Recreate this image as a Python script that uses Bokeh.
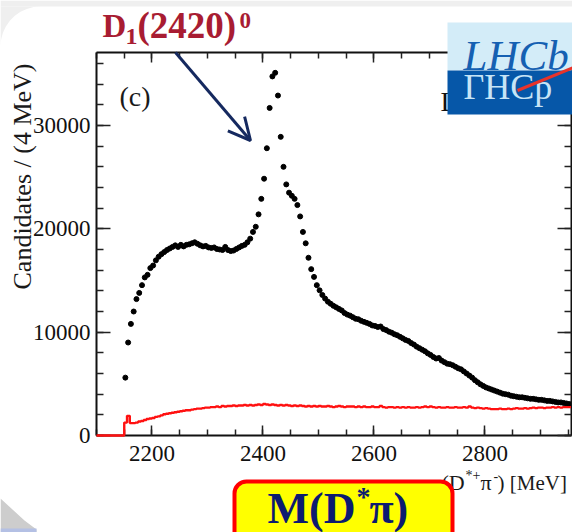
import math
from bokeh.plotting import figure
from bokeh.models import (Range1d, LinearAxis, SingleIntervalTicker, Label, BoxAnnotation,
                          PolyAnnotation, Arrow, OpenHead, CustomJSTickFormatter)
from bokeh.embed import file_html
from bokeh.resources import INLINE

# ---------------- data ----------------
BIN_MEV = 5
black_first_center = 2152
black_counts = [
    5600, 9000, 10800, 12000, 13200, 13800, 14550, 15300, 15550, 16200,
    16450, 16950, 17300, 17550, 17750, 17950, 18100, 18250, 18400, 18250,
    18450, 18300, 18450, 18500, 18600, 18700, 18550, 18400, 18300, 18350,
    18200, 18150, 18200, 18050, 18000, 17950, 18250, 17950, 17850, 17900,
    18050, 18200, 18350, 18450, 18700, 19050, 19700, 20200, 21400, 22900,
    24850, 27800, 31700, 34750, 35100, 32900, 28900, 26000, 24300, 23500,
    23200, 22900, 22300, 21200, 19700, 18600, 17200, 16100, 15350, 14550,
    14050, 13600, 13250, 12950, 12750, 12550, 12400, 12250, 12100, 11850,
    11700, 11600, 11450, 11300, 11250, 11100, 11000, 10900, 10800, 10650,
    10600, 10500, 10550, 10300, 10200, 10050, 9950, 9800, 9700, 9550,
    9400, 9250, 9150, 8950, 8800, 8600, 8450, 8300, 8150, 7950,
    7800, 7600, 7450, 7500, 7250, 7100, 6950, 6900, 6800, 6650,
    6500, 6400, 6200, 6000, 5800, 5600, 5350, 5150, 4950, 4800,
    4650, 4550, 4450, 4350, 4250, 4150, 4050, 4000, 3950, 3850,
    3800, 3750, 3700, 3700, 3650, 3600, 3550, 3550, 3500, 3450,
    3450, 3400, 3350, 3350, 3300, 3250, 3200, 3200, 3150, 3100,
    3050,
]
red_first_edge = 2150
red_counts = [
    1250, 1900, 1200, 1200, 1250, 1350, 1400, 1500, 1600, 1650,
    1700, 1800, 1850, 1950, 2050, 2100, 2150, 2200, 2250, 2300,
    2350, 2400, 2450, 2450, 2500, 2550, 2600, 2600, 2650, 2700,
    2700, 2750, 2750, 2800, 2750, 2850, 2800, 2850, 2850, 2900,
    2850, 2900, 2900, 2950, 2900, 2950, 2900, 2950, 3000, 2950,
    3050, 3000, 2950, 3000, 2950, 2900, 2950, 2900, 2950, 2900,
    2850, 2900, 2850, 2900, 2850, 2800, 2850, 2800, 2850, 2800,
    2850, 2800, 2800, 2850, 2800, 2750, 2800, 2850, 2800, 2750,
    2800, 2800, 2800, 2750, 2800, 2750, 2800, 2750, 2750, 2800,
    2750, 2750, 2850, 2750, 2700, 2750, 2750, 2700, 2750, 2700,
    2750, 2700, 2750, 2700, 2700, 2750, 2700, 2750, 2800, 2750,
    2800, 2750, 2700, 2750, 2700, 2700, 2750, 2700, 2700, 2750,
    2700, 2700, 2750, 2700, 2800, 2700, 2650, 2700, 2650, 2600,
    2650, 2600, 2550, 2550, 2550, 2600, 2550, 2550, 2600, 2550,
    2600, 2650, 2600, 2600, 2650, 2600, 2650, 2700, 2650, 2700,
    2700, 2650, 2700, 2700, 2750, 2700, 2750, 2700, 2750, 2750,
    2750,
]
x_min, x_max = 2100, 2956
y_min, y_max = 0, 37065
x_tick_interval = 200
y_tick_interval = 10000

black_x = [black_first_center + BIN_MEV * i for i in range(len(black_counts))]
red_edges = [x_min] + [red_first_edge + BIN_MEV * i for i in range(len(red_counts) + 1)]
red_vals = [0] + red_counts + [red_counts[-1]]

# ---------------- layout geometry ----------------
W, H = 572, 532
FL, FT, FR, FB = 96, 52, 571, 435   # plot box edges in canvas pixels
kx = (x_max - x_min) / (FR - FL)    # data units per pixel
ky = (y_max - y_min) / (FB - FT)
view_x = Range1d(x_min - FL * kx, x_max + (W - FR) * kx)
view_y = Range1d(y_min - (H - FB) * ky, y_max + FT * ky)

p = figure(width=W, height=H, output_backend="svg", toolbar_location=None,
           x_range=view_x, y_range=view_y,
           x_axis_location=None, y_axis_location=None,
           min_border=0, min_border_left=0, min_border_right=0,
           min_border_top=0, min_border_bottom=0,
           background_fill_color="white", border_fill_color="white",
           outline_line_color=None)
p.grid.visible = False

TICK_FONT = "Liberation Serif"
blank = CustomJSTickFormatter(code="return ''")

def make_axis(kind, loc, labels):
    if kind == "x":
        tk = SingleIntervalTicker(interval=x_tick_interval, num_minor_ticks=4)
        bounds = (x_min, x_max)
        mi, ni = 10, 6
    else:
        tk = SingleIntervalTicker(interval=y_tick_interval, num_minor_ticks=5)
        bounds = (y_min, y_max)
        mi, ni = 14, 7
    ax = LinearAxis(ticker=tk, fixed_location=loc, bounds=bounds,
                    major_tick_in=mi, major_tick_out=0, minor_tick_in=ni, minor_tick_out=0,
                    axis_line_width=2, axis_line_color="#111111",
                    major_tick_line_color="#222222", minor_tick_line_color="#222222",
                    major_tick_line_width=1.5, minor_tick_line_width=1.5,
                    major_label_text_font=TICK_FONT, major_label_text_font_size="23px",
                    major_label_text_color="#111111",
                    major_label_standoff=10 if kind == "x" else 6)
    if not labels:
        ax.formatter = blank
    return ax

p.add_layout(make_axis("x", y_min, True), "below")
p.add_layout(make_axis("y", x_min, True), "left")
p.add_layout(make_axis("x", y_max, False), "above")
p.add_layout(make_axis("y", x_max, False), "right")

# data
p.step(red_edges, red_vals, mode="after", line_color="#ff1010", line_width=2.4,
       level="overlay")
p.scatter(black_x, black_counts, size=5, color="black")

# ---------------- decorations (screen units, canvas pixels) ----------------
def sx(cx):
    return cx

def sy(cy):
    return H - cy

def box(l, r, t, b, fill, line=None, lw=0, radius=0):
    p.add_layout(BoxAnnotation(left=sx(l), right=sx(r), top=sy(t), bottom=sy(b),
                               left_units="screen", right_units="screen",
                               top_units="screen", bottom_units="screen",
                               fill_color=fill, fill_alpha=1.0,
                               line_color=line, line_alpha=1.0, line_width=lw,
                               border_radius=radius))

def poly(pts, fill):
    p.add_layout(PolyAnnotation(xs=[sx(a) for a, _ in pts], ys=[sy(b) for _, b in pts],
                                xs_units="screen", ys_units="screen",
                                fill_color=fill, fill_alpha=1.0, line_color=None))

def lab(text, cx, cy, size, color, style="normal", font="Liberation Serif",
        align="left", angle=0.0):
    # cy is the vertical middle of the text
    p.add_layout(Label(x=sx(cx), y=sy(cy), x_units="screen", y_units="screen",
                       text=text, text_font=font, text_font_size=f"{size}px",
                       text_font_style=style, text_color=color,
                       text_align=align, text_baseline="middle", angle=angle))

# slide background bits
box(0, W, 0, 6, "#efefef")
corner = [(0, 6)] + [(40 + 40 * math.cos(math.radians(a)), 46 - 40 * math.sin(math.radians(a)))
                     for a in range(90, 181, 10)]
poly(corner, "#efefef")
poly([(0, 498), (12, 509), (24, 520), (36, 529), (36, 532), (0, 532)], "#cdcdcd")
box(0, 36, 528, 533, "#b4c0e4")

# title with arrow
RED = "#a81c32"
lab("D", 102, 25, 33, RED, "bold")
lab("1", 125, 36, 24, RED, "bold")
lab("(2420)", 137, 25, 37, RED, "bold")
lab("0", 239, 20, 23, RED, "bold")
p.add_layout(Arrow(end=OpenHead(size=22, line_width=3, line_color="#15295f"),
                   x_start=sx(175), y_start=sy(52), x_end=sx(250), y_end=sy(140),
                   start_units="screen", end_units="screen",
                   line_width=3, line_color="#15295f"))

# panel label
lab("(c)", 119, 96, 28, "#1a1a1a")

# LHCb text of the plot, mostly covered by the logo
lab("LHCb", 440, 101, 28, "#111111")

# LHCb logo
box(447, 580, 22, 70, "#d3ecf8")
box(447, 580, 70, 114, "#0657a8")
lab("LHCb", 463, 55, 43, "#1560b2", "italic")
lab("ΓHCp", 463, 86, 36, "#c6e4f6")
p.add_layout(Arrow(end=None, x_start=sx(517), y_start=sy(90), x_end=sx(580), y_end=sy(64),
                   start_units="screen", end_units="screen",
                   line_width=3, line_color="#e8332a"))

# axis titles
lab("Candidates / (4 MeV)", 22, 176, 26, "#1a1a1a", align="center", angle=math.pi / 2)
lab("(D", 441, 482, 22, "#1a1a1a")
lab("*+", 465, 475, 14, "#1a1a1a")
lab("π", 480, 482, 22, "#1a1a1a")
lab("-", 493, 475, 14, "#1a1a1a")
lab(") [MeV]", 497, 482, 21, "#1a1a1a")

# yellow callout box
box(234, 452, 481, 560, "#ffff00", "#ff0000", 4, 12)
NAVY = "#0c1b70"
lab("M(D", 267, 508, 44, NAVY, "bold")
lab("*", 356, 496, 28, NAVY, "bold")
lab("π)", 369, 508, 44, NAVY, "bold")

open("out.html", "w").write(file_html(p, INLINE))
